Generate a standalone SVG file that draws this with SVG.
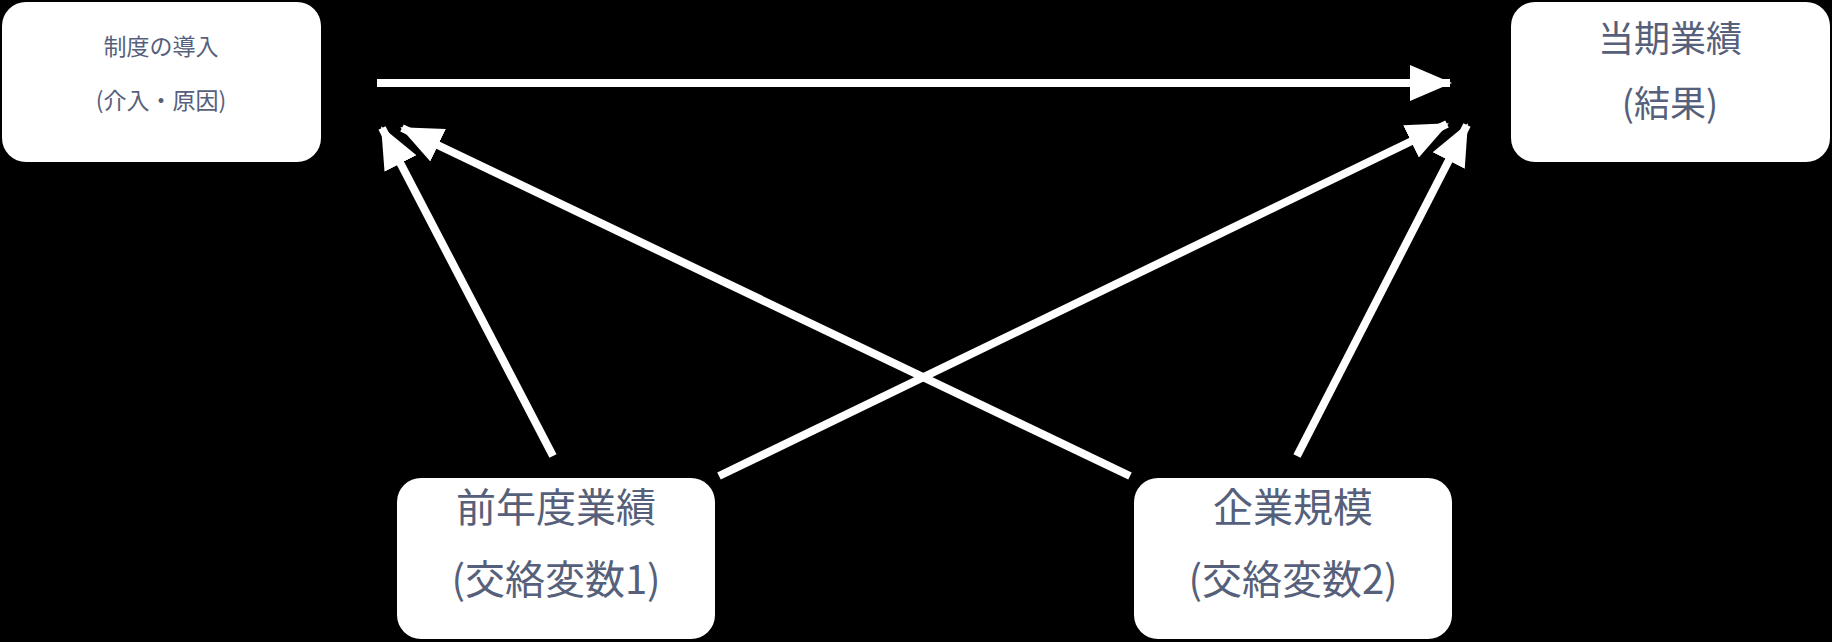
<svg xmlns="http://www.w3.org/2000/svg" width="1832" height="642" viewBox="0 0 1832 642">
<style>
.box{fill:#fff}
.t{fill:#56607a;font-family:"Noto Sans CJK JP","Noto Sans",sans-serif;text-anchor:middle;dominant-baseline:middle}
.c{stroke:#fff;stroke-width:8;fill:none;marker-end:url(#ah)}
</style>
<defs>
<marker id="ah" markerUnits="userSpaceOnUse" markerWidth="44" markerHeight="44" viewBox="0 0 44 44" refX="40" refY="22" orient="auto">
<path d="M0,4 L42,22 L0,40 Z" fill="#fff"/>
</marker>
</defs>
<rect width="1832" height="642" fill="#000"/>
<g id="connectors">
<line class="c" x1="377" y1="83" x2="1450" y2="83"/>
<line class="c" x1="553" y1="456" x2="382" y2="128"/>
<line class="c" x1="1130" y1="476" x2="402" y2="128"/>
<line class="c" x1="719" y1="476" x2="1447" y2="124"/>
<line class="c" x1="1297" y1="456" x2="1467" y2="125"/>
</g>
<g id="n1"><rect class="box" x="2" y="2" width="319" height="160" rx="24"/>
<text class="t" x="161" y="49" font-size="23">制度の導入</text>
<text class="t" x="161" y="103" font-size="23">(介入・原因)</text></g>
<g id="n2"><rect class="box" x="1511" y="2" width="319" height="160" rx="24"/>
<text class="t" x="1670" y="42" font-size="36">当期業績</text>
<text class="t" x="1670" y="107" font-size="36">(結果)</text></g>
<g id="n3"><rect class="box" x="397" y="478" width="318" height="161" rx="24"/>
<text class="t" x="556" y="511" font-size="40">前年度業績</text>
<text class="t" x="556" y="583" font-size="40">(交絡変数1)</text></g>
<g id="n4"><rect class="box" x="1134" y="478" width="318" height="161" rx="24"/>
<text class="t" x="1293" y="511" font-size="40">企業規模</text>
<text class="t" x="1293" y="583" font-size="40">(交絡変数2)</text></g>
</svg>
